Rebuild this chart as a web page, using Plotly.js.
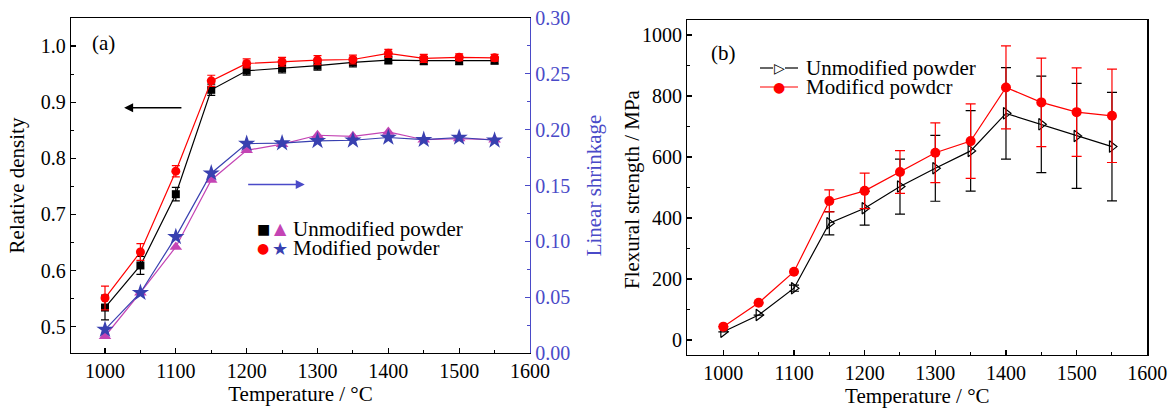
<!DOCTYPE html>
<html>
<head>
<meta charset="utf-8">
<script src="https://cdn.plot.ly/plotly-3.0.1.min.js"></script>
<style>html,body{margin:0;padding:0;background:#fff;}#chart{width:1172px;height:410px;}</style>
</head>
<body>
<div id="chart"></div>
<script>
// ---- data ----
const temps = [1000,1050,1100,1150,1200,1250,1300,1350,1400,1450,1500,1550];

// (a) relative density
const rdUnmod    = [0.534,0.609,0.736,0.922,0.956,0.960,0.965,0.971,0.975,0.974,0.974,0.974];
const rdUnmodErr = [0.022,0.016,0.012,0.010,0.008,0.008,0.008,0.008,0.007,0.007,0.007,0.006];
const rdMod      = [0.551,0.633,0.777,0.938,0.969,0.972,0.975,0.976,0.987,0.978,0.980,0.979];
const rdModErr   = [0.021,0.015,0.010,0.010,0.008,0.008,0.008,0.008,0.007,0.007,0.006,0.006];

// (a) linear shrinkage
const lsUnmod = [0.015,0.054,0.095,0.155,0.1815,0.187,0.195,0.194,0.198,0.191,0.192,0.191];
const lsMod   = [0.021,0.054,0.104,0.161,0.1875,0.188,0.190,0.1905,0.193,0.191,0.193,0.1905];

// (b) flexural strength
const fsUnmod    = [27,82,170,383,432,503,563,620,743,707,669,634];
const fsUnmodErr = [null,null,10,38,55,90,108,132,150,158,172,178];
const fsMod      = [44,122,224,456,489,551,614,652,828,779,747,735];
const fsModErr   = [null,null,null,36,58,70,98,122,136,145,145,153];

const legendA = ["Unmodified powder","Modified powder"];
const legendB = ["Unmodified powder","Modificd powdcr"];

// ---- styles ----
const W = 1172, H = 410;
const FONT = "Liberation Serif, Times New Roman, serif";
const RED = "#ff0000", BLACK = "#000000", MAG = "#c444b4", BLUE = "#3840b0", AXBLUE = "#4a4ac8";
const px = v => v / W, py = v => 1 - v / H;

const traces = [
  {x: temps, y: rdUnmod, xaxis:'x', yaxis:'y', mode:'lines+markers', showlegend:false,
   line:{color:BLACK, width:1.2}, marker:{symbol:'square', size:8, color:BLACK},
   error_y:{type:'data', array:rdUnmodErr, visible:true, color:BLACK, thickness:1.2, width:4}},
  {x: temps, y: rdMod, xaxis:'x', yaxis:'y', mode:'lines+markers', showlegend:false,
   line:{color:RED, width:1.2}, marker:{symbol:'circle', size:9, color:RED},
   error_y:{type:'data', array:rdModErr, visible:true, color:RED, thickness:1.2, width:4}},
  {x: temps, y: lsUnmod, xaxis:'x', yaxis:'y2', mode:'lines+markers', showlegend:false,
   line:{color:MAG, width:1.2}, marker:{symbol:'triangle-up', size:11, color:MAG}},
  {x: temps, y: lsMod, xaxis:'x', yaxis:'y2', mode:'lines+markers', showlegend:false,
   line:{color:BLUE, width:1.2}, marker:{symbol:'star', size:13, color:BLUE}},
  {x: temps, y: fsUnmod, xaxis:'x2', yaxis:'y3', mode:'lines+markers', showlegend:false,
   line:{color:BLACK, width:1.2}, marker:{symbol:'triangle-right-open', size:10, color:BLACK, line:{width:1.2}},
   error_y:{type:'data', array:fsUnmodErr, visible:true, color:BLACK, thickness:1.2, width:5}},
  {x: temps, y: fsMod, xaxis:'x2', yaxis:'y3', mode:'lines+markers', showlegend:false,
   line:{color:RED, width:1.2}, marker:{symbol:'circle', size:10, color:RED},
   error_y:{type:'data', array:fsModErr, visible:true, color:RED, thickness:1.2, width:5}}
];

const tickfont = {family:FONT, size:20, color:BLACK};
const titlefont = {family:FONT, size:21, color:BLACK};
function xax(domain, range, anchor){
  return {domain, range, anchor, showline:true, linecolor:BLACK, linewidth:1.2, mirror:true,
    ticks:'inside', ticklen:5, tickwidth:1.2, tickcolor:BLACK, tick0:1000, dtick:100,
    minor:{ticks:'inside', ticklen:3, tickwidth:1, tickcolor:BLACK, dtick:50, showgrid:false},
    showgrid:false, zeroline:false, tickfont,
    title:{text:'Temperature / °C', font:titlefont, standoff:4}};
}

const layout = {
  width:W, height:H, margin:{l:0,r:0,t:0,b:0}, paper_bgcolor:'#fff', plot_bgcolor:'#fff',
  showlegend:false, font:{family:FONT},
  xaxis: xax([px(71), px(530)], [952,1600], 'y'),
  yaxis: {domain:[1-353/H, 1-18/H], range:[0.453,1.05], anchor:'x', showline:true, linecolor:BLACK, linewidth:1.2,
    ticks:'inside', ticklen:5, tickwidth:1.2, tickcolor:BLACK, tick0:0.5, dtick:0.1, tickformat:'.1f',
    minor:{ticks:'inside', ticklen:3, tickwidth:1, tickcolor:BLACK, dtick:0.05, showgrid:false},
    showgrid:false, zeroline:false, tickfont,
    title:{text:'Relative density', font:titlefont, standoff:10}},
  yaxis2: {overlaying:'y', side:'right', anchor:'x', range:[0,0.30], showline:true, linecolor:AXBLUE, linewidth:1.2,
    ticks:'inside', ticklen:5, tickwidth:1.2, tickcolor:AXBLUE, tick0:0, dtick:0.05, tickformat:'.2f',
    minor:{ticks:'inside', ticklen:3, tickwidth:1, tickcolor:AXBLUE, dtick:0.025, showgrid:false},
    showgrid:false, zeroline:false, tickfont:{family:FONT, size:20, color:AXBLUE},
    title:{text:'Linear shrinkage', font:{family:FONT, size:21, color:AXBLUE}, standoff:17}},
  xaxis2: xax([px(687.3), px(1147.3)], [949,1600], 'y3'),
  yaxis3: {domain:[1-355/H, 1-20/H], range:[-49,1049], anchor:'x2', showline:true, linecolor:BLACK, linewidth:1.2, mirror:true,
    ticks:'inside', ticklen:5, tickwidth:1.2, tickcolor:BLACK, tick0:0, dtick:200,
    minor:{ticks:'inside', ticklen:3, tickwidth:1, tickcolor:BLACK, dtick:100, showgrid:false},
    showgrid:false, zeroline:false, tickfont},
  annotations: [
    {xref:'paper', yref:'paper', x:px(632), y:py(189), text:'Flexural strength / MPa', textangle:-90, showarrow:false,
     font:titlefont, xanchor:'center', yanchor:'middle'},
    {xref:'paper', yref:'paper', x:px(103), y:py(43), text:'(a)', showarrow:false, font:titlefont, xanchor:'center', yanchor:'middle'},
    {xref:'paper', yref:'paper', x:px(723), y:py(53), text:'(b)', showarrow:false, font:titlefont, xanchor:'center', yanchor:'middle'},
    // arrows panel (a)
    {xref:'x', yref:'y', x:1027, y:0.890, axref:'x', ayref:'y', ax:1110, ay:0.890, text:'', showarrow:true,
     arrowhead:2, arrowsize:1.2, arrowwidth:1.5, arrowcolor:BLACK},
    {xref:'x', yref:'y2', x:1282, y:0.151, axref:'x', ayref:'y2', ax:1200, ay:0.151, text:'', showarrow:true,
     arrowhead:2, arrowsize:1.2, arrowwidth:1.5, arrowcolor:AXBLUE},
    // legend (a)
    {xref:'paper', yref:'paper', x:px(263), y:py(229), text:'■', showarrow:false, xanchor:'center', yanchor:'middle', font:{family:'DejaVu Sans', size:14, color:BLACK}},
    {xref:'paper', yref:'paper', x:px(280), y:py(228), text:'▲', showarrow:false, xanchor:'center', yanchor:'middle', font:{family:'DejaVu Sans', size:16, color:MAG}},
    {xref:'paper', yref:'paper', x:px(291), y:py(229), text:legendA[0], showarrow:false, xanchor:'left', yanchor:'middle', font:titlefont},
    {xref:'paper', yref:'paper', x:px(263), y:py(248), text:'●', showarrow:false, xanchor:'center', yanchor:'middle', font:{family:'DejaVu Sans', size:14, color:RED}},
    {xref:'paper', yref:'paper', x:px(280), y:py(248), text:'★', showarrow:false, xanchor:'center', yanchor:'middle', font:{family:'DejaVu Sans', size:18, color:BLUE}},
    {xref:'paper', yref:'paper', x:px(291), y:py(248), text:legendA[1], showarrow:false, xanchor:'left', yanchor:'middle', font:titlefont},
    // legend (b)
    {xref:'paper', yref:'paper', x:px(779), y:py(68), text:'▷', showarrow:false, xanchor:'center', yanchor:'middle', font:{family:'DejaVu Sans', size:14, color:BLACK}},
    {xref:'paper', yref:'paper', x:px(804), y:py(68), text:legendB[0], showarrow:false, xanchor:'left', yanchor:'middle', font:titlefont},
    {xref:'paper', yref:'paper', x:px(779), y:py(87), text:'●', showarrow:false, xanchor:'center', yanchor:'middle', font:{family:'DejaVu Sans', size:14, color:RED}},
    {xref:'paper', yref:'paper', x:px(804), y:py(87), text:legendB[1], showarrow:false, xanchor:'left', yanchor:'middle', font:titlefont}
  ],
  shapes: [
    {type:'line', xref:'paper', yref:'paper', x0:px(760), x1:px(773), y0:py(68), y1:py(68), line:{color:BLACK, width:1.2}},
    {type:'line', xref:'paper', yref:'paper', x0:px(785), x1:px(798), y0:py(68), y1:py(68), line:{color:BLACK, width:1.2}},
    {type:'line', xref:'paper', yref:'paper', x0:px(760), x1:px(798), y0:py(87), y1:py(87), line:{color:RED, width:1.2}, layer:'below'}
  ]
};

Plotly.newPlot('chart', traces, layout, {staticPlot:true, displayModeBar:false});
</script>
</body>
</html>
